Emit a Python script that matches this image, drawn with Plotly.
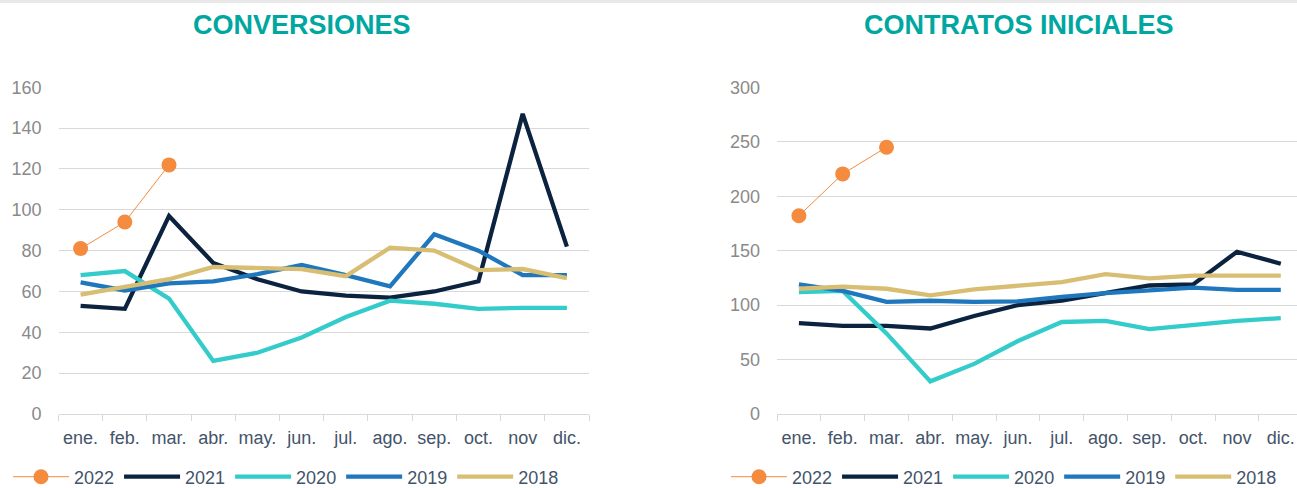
import plotly.graph_objects as go

W, H = 1297, 488

months = ["ene.", "feb.", "mar.", "abr.", "may.", "jun.", "jul.", "ago.", "sep.", "oct.", "nov", "dic."]
years = ["2022", "2021", "2020", "2019", "2018"]

conv_2022 = [81, 94, 122]
conv_2021 = [53, 51.5, 97, 74, 66, 60, 58, 57, 60, 65, 147, 82]
conv_2020 = [68, 70, 56.5, 26, 30, 37.5, 47.5, 55.5, 54, 51.5, 52, 52]
conv_2019 = [64.5, 60.5, 64, 65, 68.5, 73, 68, 62.5, 88, 80, 68, 68]
conv_2018 = [58.5, 62, 66, 72, 71.5, 71, 67.5, 81.5, 80, 70.5, 71, 66.5]

contr_2022 = [182, 220.5, 245]
contr_2021 = [83.5, 81, 81, 78.5, 90, 100, 104, 111, 118, 119, 149, 138]
contr_2020 = [112, 113, 74, 30, 46, 67, 84.5, 85.5, 78, 82, 85.5, 88]
contr_2019 = [119, 113, 103, 104, 103, 103.5, 107.5, 111, 113.5, 116, 114, 114]
contr_2018 = [115, 117, 115, 109, 114.5, 118, 121, 128.5, 124.5, 127, 127, 127]

titles = ["CONVERSIONES", "CONTRATOS INICIALES"]
conv_ticks = [0, 20, 40, 60, 80, 100, 120, 140, 160]
contr_ticks = [0, 50, 100, 150, 200, 250, 300]

colors = {"2022": "#F58B3E", "2021": "#0C2340", "2020": "#33CCCA",
          "2019": "#1F77BD", "2018": "#D7BE73"}

FONT = "Liberation Sans, Arial, sans-serif"
TXT = "#44546A"
YTXT = "#8A8A8A"
GRID = "#D9D9D9"

fig = go.Figure()

def add_series(data, xa, ya, legend):
    for yr, vals in zip(years, data):
        if yr == "2022":
            fig.add_trace(go.Scatter(
                x=months[:len(vals)], y=vals, name=yr, mode="lines+markers",
                line=dict(color=colors[yr], width=1),
                marker=dict(color=colors[yr], size=15),
                xaxis=xa, yaxis=ya, legend=legend, hoverinfo="x+y+name"))
        else:
            fig.add_trace(go.Scatter(
                x=months[:len(vals)], y=vals, name=yr, mode="lines",
                line=dict(color=colors[yr], width=4.3),
                xaxis=xa, yaxis=ya, legend=legend, hoverinfo="x+y+name"))

add_series([conv_2022, conv_2021, conv_2020, conv_2019, conv_2018], "x", "y", "legend")
add_series([contr_2022, contr_2021, contr_2020, contr_2019, contr_2018], "x2", "y2", "legend2")

ydom = [1 - 414 / H, 1 - 87.3 / H]

xcommon = dict(type="category", categoryorder="array", categoryarray=months,
               showgrid=False, showline=True, linecolor=GRID, linewidth=1,
               ticks="outside", tickson="boundaries", ticklen=6, tickcolor=GRID,
               tickangle=0, ticklabelstandoff=7,
               tickfont=dict(family=FONT, size=18, color=TXT), zeroline=False,
               fixedrange=True)
ycommon = dict(showgrid=True, gridcolor=GRID, gridwidth=1, zeroline=False,
               showline=False, ticks="", ticklabelstandoff=16,
               tickfont=dict(family=FONT, size=18, color=YTXT), fixedrange=True)

legcommon = dict(orientation="h", y=1 - 477 / H, yanchor="middle", xanchor="left",
                 font=dict(family=FONT, size=18, color=TXT), itemwidth=56,
                 bgcolor="rgba(0,0,0,0)",
                 traceorder="normal", itemclick=False, itemdoubleclick=False,
                 borderwidth=0)

fig.update_layout(
    width=W, height=H,
    margin=dict(l=0, r=0, t=0, b=0, autoexpand=False),
    paper_bgcolor="white", plot_bgcolor="white",
    font=dict(family=FONT, color=TXT),
    xaxis=dict(domain=[58.5 / W, 589 / W], range=[-0.5, 11.5], anchor="y", **xcommon),
    yaxis=dict(domain=ydom, range=[0, 160], tickvals=conv_ticks, anchor="x", **ycommon),
    xaxis2=dict(domain=[777 / W, 1.0], range=[-0.5, 11.37], anchor="y2", **xcommon),
    yaxis2=dict(domain=ydom, range=[0, 300], tickvals=contr_ticks, anchor="x2", **ycommon),
    legend=dict(x=8 / W, **legcommon),
    legend2=dict(x=726 / W, **legcommon),
    showlegend=True,
    annotations=[
        dict(text="<b>" + titles[0] + "</b>", x=301.5 / W, y=1 - 24.5 / H, xref="paper", yref="paper",
             xanchor="center", yanchor="middle", showarrow=False,
             font=dict(family=FONT, size=27, color="#00A7A1")),
        dict(text="<b>" + titles[1] + "</b>", x=1019 / W, y=1 - 24.5 / H, xref="paper", yref="paper",
             xanchor="center", yanchor="middle", showarrow=False,
             font=dict(family=FONT, size=27, color="#00A7A1")),
    ],
    shapes=[dict(type="rect", xref="paper", yref="paper", x0=0, x1=1, y0=1 - 3 / H, y1=1,
                 fillcolor="#E8E8E8", line=dict(width=0), layer="below")],
)

fig.write_html("out.html", config={"displayModeBar": False},
               post_script="document.body.style.margin='0';document.body.style.overflow='hidden';")
